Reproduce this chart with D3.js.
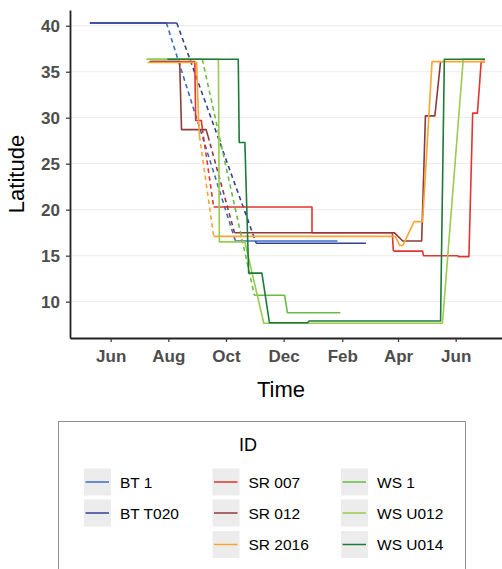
<!DOCTYPE html>
<html>
<head>
<meta charset="utf-8">
<script src="https://cdn.jsdelivr.net/npm/d3@7"></script>
<style>
  body { margin: 0; background: #fff; }
  text { font-family: "Liberation Sans", Arial, sans-serif; }
</style>
</head>
<body>
<svg></svg>
<script>
// ids and their colours
const ids = ["BT 1", "BT T020", "SR 007", "SR 012", "SR 2016", "WS 1", "WS U012", "WS U014"];
const colors = ["#3b6cc6", "#353f91", "#e2352f", "#8c3c3c", "#f8a532", "#67bd45", "#98cb4e", "#1c7a3a"];

// tracks: [date, latitude, gap] ; gap = 1 means the leg into this point is a dashed gap
const bt1 = [["2017-05-10", 40.3], ["2017-07-30", 40.3], ["2017-10-11", 16.6, 1], ["2018-01-27", 16.6]];
const btT020 = [["2017-05-10", 40.3], ["2017-08-10", 40.3], ["2017-11-02", 16.35, 1], ["2018-02-26", 16.35]];
const sr007 = [["2017-07-12", 36.1], ["2017-08-29", 36.1], ["2017-08-30", 29.7], ["2017-09-05", 29.7],
  ["2017-09-06", 28.8], ["2017-09-18", 20.3, 1], ["2017-12-31", 20.3], ["2017-12-31", 17.5],
  ["2018-03-26", 17.5], ["2018-03-27", 15.6], ["2018-03-28", 15.5], ["2018-04-27", 15.5],
  ["2018-04-28", 15.0], ["2018-06-03", 15.0], ["2018-06-04", 14.9], ["2018-06-15", 14.9],
  ["2018-06-19", 30.5], ["2018-06-24", 30.5], ["2018-06-28", 36.1], ["2018-07-02", 36.1]];
const sr012 = [["2017-07-13", 36.1], ["2017-08-13", 36.1], ["2017-08-15", 28.7], ["2017-09-10", 28.7],
  ["2017-09-12", 28.0], ["2017-10-10", 17.5, 1], ["2018-03-28", 17.5], ["2018-04-06", 16.6],
  ["2018-04-26", 16.6], ["2018-04-30", 30.2], ["2018-05-10", 30.2], ["2018-05-16", 36.1]];
const sr2016 = [["2017-07-10", 36.0], ["2017-08-31", 36.0], ["2017-09-02", 29.7], ["2017-09-03", 28.0],
  ["2017-09-18", 17.1, 1], ["2018-03-29", 17.1], ["2018-04-03", 16.1], ["2018-04-06", 16.1],
  ["2018-04-18", 18.7], ["2018-04-27", 18.7], ["2018-05-07", 36.1], ["2018-07-02", 36.1]];
const ws1 = [["2017-07-09", 36.35], ["2017-09-06", 36.35], ["2017-10-31", 10.7, 1], ["2017-12-02", 10.7],
  ["2017-12-05", 8.8], ["2018-01-30", 8.8]];
const wsU012 = [["2017-07-09", 36.35], ["2017-09-23", 36.35], ["2017-09-24", 16.5], ["2017-10-21", 16.5],
  ["2017-11-10", 7.65], ["2018-05-18", 7.65], ["2018-06-09", 36.35], ["2018-07-02", 36.35]];
const wsU014 = [["2017-07-31", 36.35], ["2017-10-14", 36.35], ["2017-10-15", 27.3], ["2017-10-21", 27.3],
  ["2017-10-25", 13.1], ["2017-11-08", 13.1], ["2017-11-16", 7.7], ["2017-12-26", 7.7],
  ["2017-12-28", 7.9], ["2018-05-16", 7.9], ["2018-05-20", 36.35], ["2018-07-02", 36.35]];
const tracks = [bt1, btT020, sr007, sr012, sr2016, ws1, wsU012, wsU014];

const yTicks = [10, 15, 20, 25, 30, 35, 40];
const xTicks = ["2017-06-01", "2017-08-01", "2017-10-01", "2017-12-01", "2018-02-01", "2018-04-01", "2018-06-01"];
const xTickLabels = ["Jun", "Aug", "Oct", "Dec", "Feb", "Apr", "Jun"];

const width = 502, height = 569;
const parse = d3.timeParse("%Y-%m-%d");
const svg = d3.select('svg').attr('width', width).attr('height', height);

const pLeft = 70, pRight = 502, pTop = 10, pBottom = 338;

const x = d3.scaleTime()
  .domain([parse("2017-04-19"), parse("2018-07-20")])
  .range([pLeft, pRight]);
const y = d3.scaleLinear()
  .domain([6.05, 41.71])
  .range([pBottom, pTop]);

// grid
svg.append('g').selectAll('line').data(yTicks).enter().append('line')
  .attr('x1', pLeft).attr('x2', pRight)
  .attr('y1', d => y(d)).attr('y2', d => y(d))
  .attr('stroke', '#ebebeb').attr('stroke-width', 1);

svg.append('clipPath').attr('id', 'clip').append('rect')
  .attr('x', pLeft).attr('y', pTop).attr('width', pRight - pLeft).attr('height', pBottom - pTop);

// split tracks into solid runs and dashed gaps
const segs = [];
tracks.forEach((t, k) => {
  let cur = [t[0]];
  for (let i = 1; i < t.length; i++) {
    if (t[i][2]) {
      if (cur.length > 1) segs.push({k, dash: false, pts: cur});
      segs.push({k, dash: true, pts: [t[i - 1], t[i]]});
      cur = [t[i]];
    } else cur.push(t[i]);
  }
  if (cur.length > 1) segs.push({k, dash: false, pts: cur});
});

const line = d3.line().x(d => x(parse(d[0]))).y(d => y(d[1]));

svg.append('g').attr('clip-path', 'url(#clip)')
  .selectAll('path').data(segs).enter().append('path')
  .attr('d', d => line(d.pts))
  .attr('fill', 'none')
  .attr('stroke', d => colors[d.k])
  .attr('stroke-width', 1.6)
  .attr('stroke-linejoin', 'round')
  .attr('stroke-dasharray', d => d.dash ? '4.5,3.5' : null);

// axes
const yAxis = d3.axisLeft(y).tickValues(yTicks).tickSize(4).tickSizeOuter(0).tickPadding(6);
const yAxisG = svg.append('g').attr('transform', `translate(${pLeft},0)`).call(yAxis);
const xAxis = d3.axisBottom(x).tickValues(xTicks.map(parse))
  .tickFormat((d, i) => xTickLabels[i]).tickSize(4).tickSizeOuter(0).tickPadding(8);
const xAxisG = svg.append('g').attr('transform', `translate(0,${pBottom})`).call(xAxis);

[yAxisG, xAxisG].forEach(g => {
  g.select('.domain').attr('stroke', '#222').attr('stroke-width', 1.8);
  g.selectAll('.tick line').attr('stroke', '#333').attr('stroke-width', 1.2);
  g.selectAll('.tick text')
    .attr('fill', '#4d4d4d')
    .style('font-size', '17px')
    .style('font-weight', 'bold')
    .style('font-family', '"Liberation Sans", Arial, sans-serif');
});

svg.append('text').attr('x', 281).attr('y', 397)
  .attr('text-anchor', 'middle').style('font-size', '22px').text('Time');
svg.append('text').attr('transform', `translate(24,${(pTop + pBottom) / 2}) rotate(-90)`)
  .attr('text-anchor', 'middle').style('font-size', '22px').text('Latitude');

// legend
const lg = svg.append('g');
lg.append('rect').attr('x', 58.5).attr('y', 421.5).attr('width', 407).attr('height', 170)
  .attr('fill', 'white').attr('stroke', '#8f8f8f').attr('stroke-width', 1);
lg.append('text').attr('x', 248).attr('y', 451).attr('text-anchor', 'middle')
  .style('font-size', '18px').text('ID');

const groups = Array.from(d3.group(ids, d => d.split(' ')[0]).values());
const colX = [84, 212.5, 341];
const rowY = [468.5, 499.5, 531];
groups.forEach((grp, c) => {
  grp.forEach((id, r) => {
    const k = ids.indexOf(id);
    const gx = colX[c], gy = rowY[r];
    lg.append('rect').attr('x', gx).attr('y', gy).attr('width', 27).attr('height', 27).attr('fill', '#ececec');
    lg.append('line').attr('x1', gx + 1.5).attr('x2', gx + 25).attr('y1', gy + 13.5).attr('y2', gy + 13.5)
      .attr('stroke', colors[k]).attr('stroke-width', 1.5);
    lg.append('text').attr('x', gx + 36).attr('y', gy + 19).style('font-size', '15.5px').text(id);
  });
});
</script>
</body>
</html>
